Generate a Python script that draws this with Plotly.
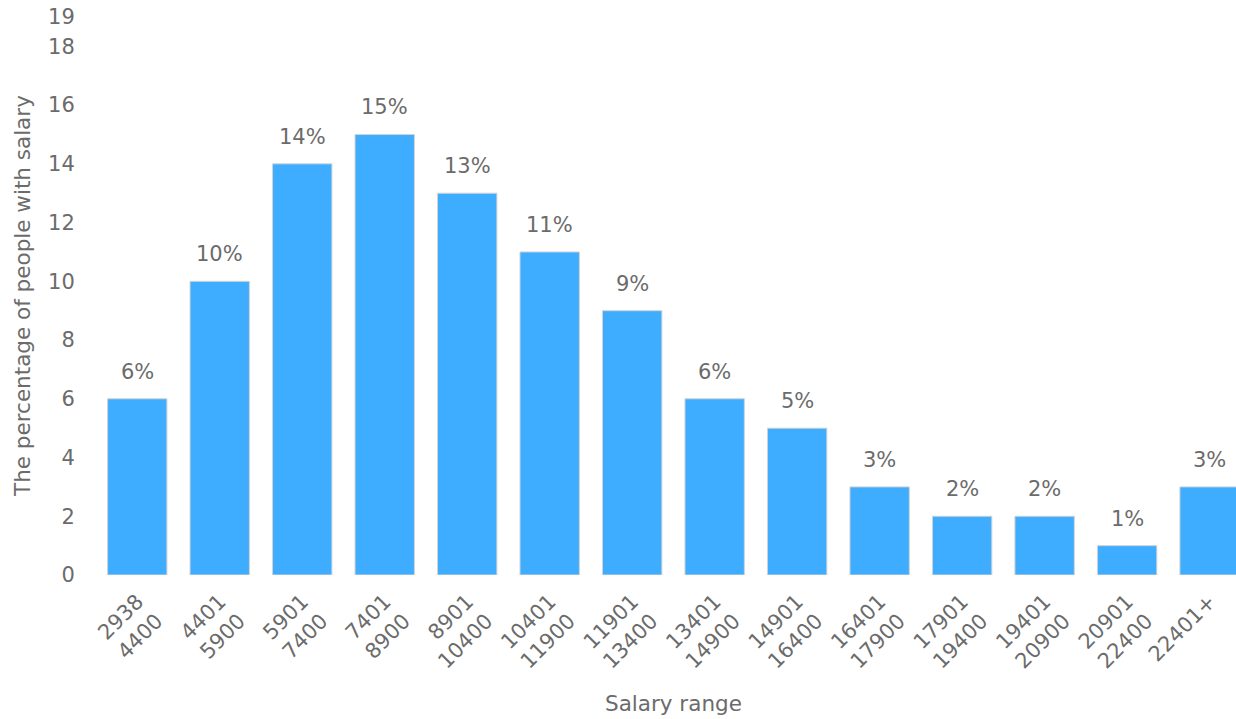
import plotly.graph_objects as go

# Salary ranges (two-line labels) and share of people in each range, %
range_low = ["2938", "4401", "5901", "7401", "8901", "10401", "11901",
             "13401", "14901", "16401", "17901", "19401", "20901", "22401+"]
range_high = ["4400", "5900", "7400", "8900", "10400", "11900", "13400",
              "14900", "16400", "17900", "19400", "20900", "22400", ""]
share = [6, 10, 14, 15, 13, 11, 9, 6, 5, 3, 2, 2, 1, 3]

y_ticks = [0, 2, 4, 6, 8, 10, 12, 14, 16, 18, 19]

labels = [f"{lo}<br>{hi}" if hi else lo for lo, hi in zip(range_low, range_high)]
positions = list(range(len(labels)))

FONT = "DejaVu Sans"
GREY = "#6b6b6b"
SIZE = 21

fig = go.Figure()
fig.add_trace(go.Bar(
    x=positions,
    y=share,
    width=0.72,
    marker=dict(color="#3fadff", line=dict(color="#d2d2d2", width=1)),
    hoverinfo="skip",
))

# Percentage labels above each bar
for xi, v in zip(positions, share):
    fig.add_annotation(
        x=xi, y=v, xref="x", yref="y",
        text=f"{v}%", showarrow=False,
        yanchor="bottom", yshift=13,
        font=dict(family=FONT, size=SIZE, color=GREY),
    )

# Axis titles
fig.add_annotation(
    x=0.507, y=0, xref="paper", yref="paper",
    text="Salary range", showarrow=False,
    xanchor="center", yanchor="middle", yshift=-128,
    font=dict(family=FONT, size=21.5, color=GREY),
)
fig.add_annotation(
    x=0, y=0.5, xref="paper", yref="paper",
    text="The percentage of people with salary", showarrow=False,
    textangle=-90, xanchor="center", yanchor="middle", xshift=-74,
    font=dict(family=FONT, size=21.5, color=GREY),
)

fig.update_layout(
    width=1236, height=719,
    margin=dict(l=96, r=0, t=17, b=144),
    paper_bgcolor="white", plot_bgcolor="white",
    showlegend=False,
    font=dict(family=FONT, size=SIZE, color=GREY),
    xaxis=dict(
        range=[-0.5, 13.32],
        tickmode="array", tickvals=positions, ticktext=labels,
        tickangle=-45,
        showgrid=False, zeroline=False, showline=False,
        ticks="outside", ticklen=5, tickcolor="rgba(0,0,0,0)",
        tickfont=dict(family=FONT, size=SIZE, color=GREY),
    ),
    yaxis=dict(
        range=[0, 19],
        tickmode="array", tickvals=y_ticks,
        showgrid=False, zeroline=False, showline=False,
        ticks="outside", ticklen=16, tickcolor="rgba(0,0,0,0)",
        tickfont=dict(family=FONT, size=SIZE, color=GREY),
    ),
)

fig.write_html("out.html")
